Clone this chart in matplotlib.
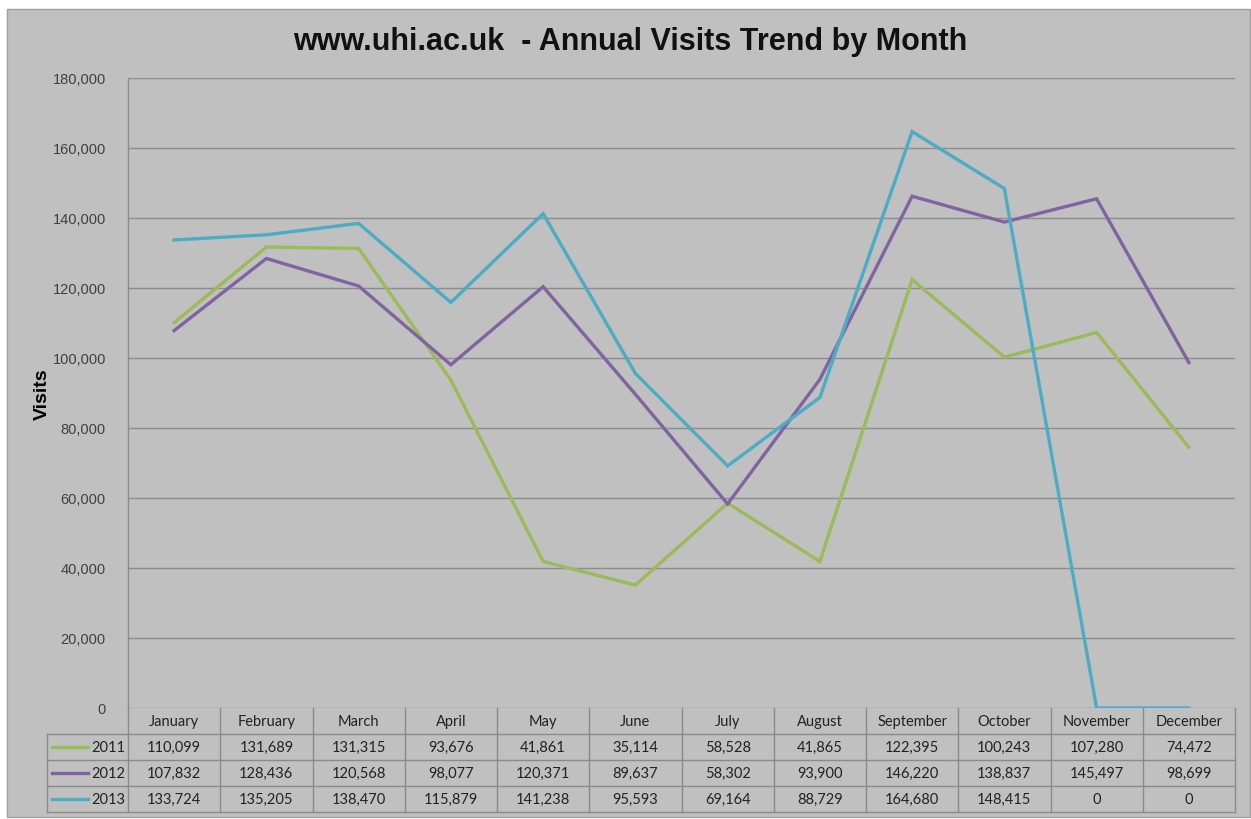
import matplotlib
matplotlib.use("Agg")
import matplotlib.pyplot as plt
import matplotlib.transforms as mtransforms
from matplotlib.patches import Rectangle
from matplotlib.ticker import FuncFormatter

months = ["January", "February", "March", "April", "May", "June", "July",
          "August", "September", "October", "November", "December"]
years = ["2011", "2012", "2013"]
visits_2011 = [110099, 131689, 131315, 93676, 41861, 35114, 58528, 41865, 122395, 100243, 107280, 74472]
visits_2012 = [107832, 128436, 120568, 98077, 120371, 89637, 58302, 93900, 146220, 138837, 145497, 98699]
visits_2013 = [133724, 135205, 138470, 115879, 141238, 95593, 69164, 88729, 164680, 148415, 0, 0]
series = [visits_2011, visits_2012, visits_2013]
colors = ["#9bbb59", "#8064a2", "#4bacc6"]
yticks = list(range(0, 180001, 20000))

W, H = 1251, 820
fig = plt.figure(figsize=(W / 100, H / 100), dpi=100)
fig.patch.set_facecolor("white")
bg = Rectangle((7 / W, 1 - 818 / H), (1250 - 7) / W, (818 - 10) / H,
               transform=fig.transFigure, facecolor="#c0c0c0",
               edgecolor="#a0a0a0", linewidth=1, zorder=-10)
fig.add_artist(bg)

ax = fig.add_axes([128 / W, 1 - 709 / H, (1235 - 128) / W, 630 / H])
ax.set_zorder(1)
ax.patch.set_alpha(0)

x = list(range(len(months)))
for vals, c in zip(series, colors):
    ax.plot(x, vals, color=c, linewidth=2.4, solid_joinstyle="miter", zorder=3)

ax.set_xlim(-0.5, 11.5)
ax.set_ylim(0, 180000)
ax.set_yticks(yticks)
ax.yaxis.set_major_formatter(FuncFormatter(lambda v, p: f"{int(v):,}"))
ax.tick_params(axis="y", length=0, pad=16, labelsize=10.5, labelcolor="#404040")
ax.set_xticks([])
ax.grid(axis="y", color="#8c8c8c", linewidth=1.0)
for s in ["top", "right", "bottom"]:
    ax.spines[s].set_visible(False)
ax.spines["left"].set_color("#8c8c8c")
ax.spines["left"].set_linewidth(1.0)
for t in ax.get_yticklabels():
    t.set_fontfamily(["Liberation Sans", "DejaVu Sans"])

ax.set_ylabel("Visits", fontsize=14, fontweight="bold", family="Liberation Sans", labelpad=1)

fig.text(630 / W, 1 - 42 / H, "www.uhi.ac.uk  - Annual Visits Trend by Month",
         ha="center", va="center", fontsize=22, fontweight="bold",
         family="Liberation Sans", color="#111111")

# data table below the axes
trans = mtransforms.blended_transform_factory(ax.transData, ax.transAxes)
rows_px = [709, 735, 761, 787, 813]
rows = [(709 - p) / 630 for p in rows_px]
colw = (1235 - 128) / 12
left_x = -0.5 + (47 - 128) / colw
gc = "#8a8a8a"
tf = ["Lato", "DejaVu Sans"]

for r in rows[1:]:
    ax.plot([left_x, 11.5], [r, r], color=gc, lw=1, transform=trans, clip_on=False)
for i in range(13):
    ax.plot([i - 0.5, i - 0.5], [rows[0], rows[-1]], color=gc, lw=1, transform=trans, clip_on=False)
ax.plot([left_x, left_x], [rows[1], rows[-1]], color=gc, lw=1, transform=trans, clip_on=False)

for i, m in enumerate(months):
    ax.text(i, (rows[0] + rows[1]) / 2, m, transform=trans, ha="center", va="center",
            fontsize=10.5, family=tf, color="#222222")
for k, (yr, vals, c) in enumerate(zip(years, series, colors)):
    yc = (rows[k + 1] + rows[k + 2]) / 2
    x0 = -0.5 + (52 - 128) / colw
    x1 = -0.5 + (88 - 128) / colw
    ax.plot([x0, x1], [yc, yc], color=c, lw=2.4, transform=trans, clip_on=False)
    ax.text(-0.5 + (125 - 128) / colw, yc, yr, transform=trans, ha="right", va="center",
            fontsize=10.5, family=tf, color="#222222")
    for i, v in enumerate(vals):
        ax.text(i, yc, f"{v:,}", transform=trans, ha="center", va="center",
                fontsize=10.5, family=tf, color="#222222")

fig.savefig("out.png", dpi=100, facecolor=fig.get_facecolor())
